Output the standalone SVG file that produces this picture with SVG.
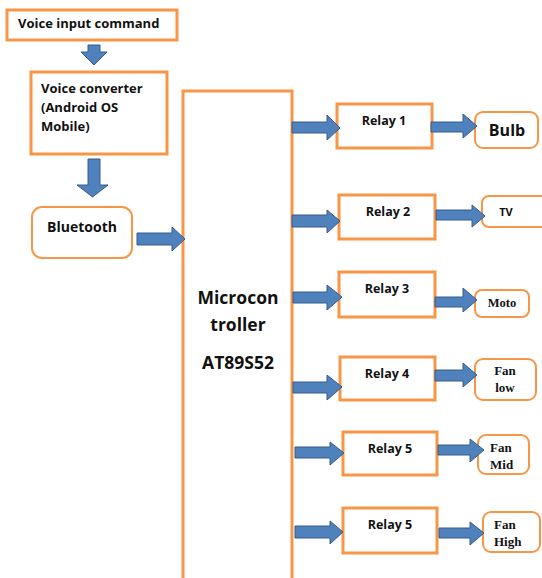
<svg xmlns="http://www.w3.org/2000/svg" width="542" height="578" viewBox="0 0 542 578">
<style>
.box{fill:#fff;stroke:#F79646;stroke-width:3}
.rbox{fill:#fff;stroke:#F79646;stroke-width:2}
.arr{fill:#4F81BD;stroke:#385D8A;stroke-width:1}
.t{font-family:"Open Sans","Liberation Sans",Arial,sans-serif;font-weight:bold;fill:#111}
.s{font-family:"Liberation Serif","Times New Roman",serif;font-weight:bold;fill:#111}
</style>
<rect width="542" height="578" fill="#fff"/>
<g id="voice-input"><rect class="box" x="7" y="10" width="170" height="30"/><text class="t" x="18" y="28" font-size="13">Voice input command</text></g>
<g id="voice-converter"><rect class="box" x="31" y="72" width="136" height="82"/>
<text class="t" x="41" y="93" font-size="13">Voice converter</text>
<text class="t" x="41" y="112" font-size="13">(Android OS</text>
<text class="t" x="41" y="131" font-size="13">Mobile)</text></g>
<g id="bluetooth"><rect class="rbox" x="32" y="207" width="100" height="51" rx="10"/><text class="t" x="82" y="232" font-size="14" text-anchor="middle">Bluetooth</text></g>
<g id="microcontroller"><rect class="box" x="183" y="91" width="109" height="500"/>
<text class="t" x="238" y="304" font-size="17.5" text-anchor="middle">Microcon</text>
<text class="t" x="238" y="331" font-size="17.5" text-anchor="middle">troller</text>
<text class="t" x="238" y="369" font-size="17.5" text-anchor="middle">AT89S52</text></g>
<g id="relay1"><rect class="box" x="337" y="104" width="95" height="44"/><text class="t" x="384" y="125" font-size="12.5" text-anchor="middle">Relay 1</text></g>
<g id="relay2"><rect class="box" x="339" y="195" width="96" height="44"/><text class="t" x="388" y="216" font-size="12.5" text-anchor="middle">Relay 2</text></g>
<g id="relay3"><rect class="box" x="339" y="272" width="96" height="45"/><text class="t" x="387" y="293" font-size="12.5" text-anchor="middle">Relay 3</text></g>
<g id="relay4"><rect class="box" x="340" y="357" width="95" height="43"/><text class="t" x="387" y="378" font-size="12.5" text-anchor="middle">Relay 4</text></g>
<g id="relay5a"><rect class="box" x="343" y="432" width="94" height="43"/><text class="t" x="390" y="453" font-size="12.5" text-anchor="middle">Relay 5</text></g>
<g id="relay5b"><rect class="box" x="343" y="508" width="94" height="45"/><text class="t" x="390" y="529" font-size="12.5" text-anchor="middle">Relay 5</text></g>
<g id="bulb"><rect class="rbox" x="475" y="112" width="63" height="36" rx="8"/><text class="t" x="507" y="136" font-size="16" text-anchor="middle">Bulb</text></g>
<g id="tv"><rect class="rbox" x="482" y="196" width="70" height="31" rx="7"/><text class="t" x="506" y="216" font-size="11" text-anchor="middle">TV</text></g>
<g id="moto"><rect class="rbox" x="475" y="290" width="54" height="27" rx="7"/><text class="s" x="502" y="307" font-size="12.5" text-anchor="middle">Moto</text></g>
<g id="fan-low"><rect class="rbox" x="475" y="359" width="61" height="41" rx="8"/><text class="s" x="505" y="375" font-size="13" text-anchor="middle">Fan</text><text class="s" x="505" y="392" font-size="13" text-anchor="middle">low</text></g>
<g id="fan-mid"><rect class="rbox" x="478" y="435" width="51" height="39" rx="8"/><text class="s" x="490" y="452" font-size="13">Fan</text><text class="s" x="490" y="469" font-size="13">Mid</text></g>
<g id="fan-high"><rect class="rbox" x="483" y="512" width="57" height="40" rx="8"/><text class="s" x="494" y="529" font-size="13">Fan</text><text class="s" x="494" y="546" font-size="13">High</text></g>
<g id="connectors">
<polygon class="arr" points="88,45 100,45 100,52 107,52 94,65 81,52 88,52"/>
<polygon class="arr" points="88,159 100,159 100,185 108,185 92.5,197 77,185 88,185"/>
<polygon class="arr" points="137,233 172,233 172,227 185,239 172,251 172,245 137,245"/>
<polygon class="arr" points="292,122 327,122 327,115 340,128 327,140 327,133 292,133"/>
<polygon class="arr" points="431,122 463,122 463,114 477,126 463,138 463,132 431,132"/>
<polygon class="arr" points="292,215 327,215 327,210 340,221 327,233 327,227 292,227"/>
<polygon class="arr" points="436,210 472,210 472,205 485,216 472,227 472,220 436,220"/>
<polygon class="arr" points="293,292 327,292 327,285 342,297 327,310 327,303 293,303"/>
<polygon class="arr" points="435,297 463,297 463,288 477,300 463,312 463,307 435,307"/>
<polygon class="arr" points="293,382 327,382 327,375 342,387 327,400 327,393 293,393"/>
<polygon class="arr" points="435,370 463,370 463,363 477,375 463,387 463,381 435,381"/>
<polygon class="arr" points="295,447 330,447 330,442 344,453 330,465 330,458 295,458"/>
<polygon class="arr" points="438,445 470,445 470,439 484,450 470,462 470,455 438,455"/>
<polygon class="arr" points="295,526 330,526 330,521 343,532 330,544 330,538 295,538"/>
<polygon class="arr" points="439,528 470,528 470,522 484,533 470,545 470,538 439,538"/>
</g>
</svg>
